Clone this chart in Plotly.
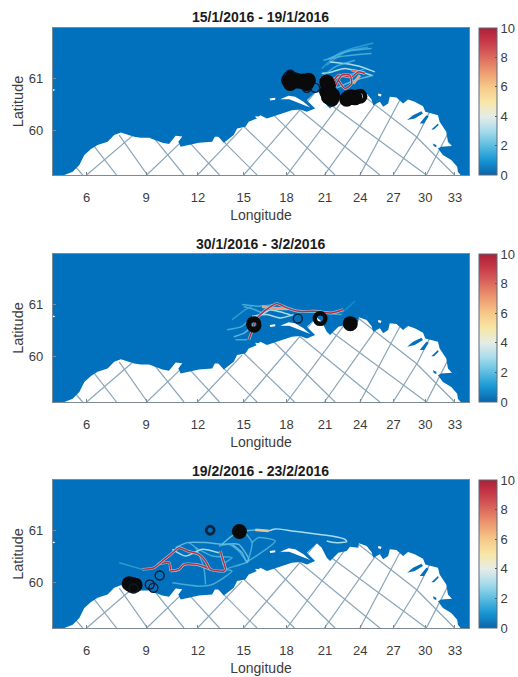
import plotly.graph_objects as go
from plotly.colors import sample_colorscale

# Projected map coordinates: east / north (arbitrary projection units)
lon_labels = ["6", "9", "12", "15", "18", "21", "24", "27", "30", "33"]
lon_east = [262, 441, 597, 735, 864, 980, 1086, 1186, 1282, 1371]
lat_labels = ["60", "61"]
lat_north = [135, 290]
map_east_range = [160, 1414]
map_north_range = [0, 442]
titles = ["15/1/2016 - 19/1/2016", "30/1/2016 - 3/2/2016", "19/2/2016 - 23/2/2016"]

coast = [(195,0),(220,10),(240,30),(255,60),(275,78),(295,90),(325,100),(345,120),(365,128),(385,121),
         (405,115),(425,112),(450,112),(468,105),(490,97),(510,93),(520,105),(530,118),(550,116),(538,100),(545,85),
         (590,93),(600,97),(640,100),(648,115),(660,115),(675,97),(705,120),(715,140),(740,145),(750,160),
         (775,170),(785,180),(805,170),(825,177),(850,185),(880,195),(905,197),(925,190),(950,200),(945,205),
         (925,225),(955,253),(970,240),(985,210),(995,200),(1020,225),(1045,230),(1055,243),(1080,240),(1082,253),
         (1105,245),(1120,227),(1125,210),(1145,220),(1155,205),(1170,215),(1175,235),(1195,233),(1215,215),(1230,227),
         (1250,220),(1275,207),(1282,190),(1320,180),(1325,160),(1345,130),(1350,100),(1362,87),(1330,85),(1320,80),
         (1335,60),(1360,45),(1378,25),(1380,10),(1388,0)]
fjords = [[(1227,165),(1245,180),(1270,192),(1275,185),(1250,170)],
          [(1265,155),(1285,180),(1292,177),(1278,155)],
          [(1300,137),(1320,155),(1322,150),(1308,137)],
          [(1305,95),(1315,90),(1315,83),(1307,87)]]
islands = [[(845,228),(870,238),(890,235),(915,220),(935,203),(905,214),(872,228)],
           [(813,230),(830,232),(830,226),(815,224)],
           [(770,177),(790,175),(790,169),(772,171)],
           [(160,258),(168,256),(160,252)],
           [(1140,245),(1150,243),(1148,236),(1140,238)]]
grid_lines = [[(250,0),(215,40)],[(352,0),(270,105)],[(445,0),(360,120)],[(555,0),(450,130)],[(662,0),(560,110)],
              [(775,0),(640,135)],[(888,0),(715,165)],[(1010,0),(810,195)],[(1145,0),(880,215)],[(1285,0),(1020,195),(995,213)],
              [(1370,0),(1255,115),(1065,262)],
              [(262,0),(420,135)],[(443,0),(565,117)],[(596,0),(730,140)],[(735,0),(855,140),(960,260)],
              [(865,0),(970,140),(1045,240)],[(978,0),(1125,205),(1150,240)],[(1085,0),(1205,225)],
              [(1185,0),(1260,120),(1295,190)],[(1285,0),(1350,125)]]

tracks_1 = [(1.5,[(970,320),(1020,365),(1060,380),(1125,397)]),
            (1.5,[(985,330),(1040,370),(1110,385)]),
            (2,[(975,345),(1020,355),(1060,360),(1120,365)]),
            (2,[(990,350),(1050,372),(1120,380)]),
            (3,[(995,340),(1040,335),(1090,325),(1130,310)]),
            (3,[(970,305),(1000,310),(1040,320),(1120,300)]),
            (2,[(965,290),(1010,325),(1070,345)]),
            (2,[(1000,290),(1050,300),(1100,320)]),
            (2.5,[(1015,262),(1070,285),(1125,300)]),
            (7,[(1065,275),(1085,300)]),
            (8,[(1060,315),(1100,307)]),
            (9.5,[(1000,275),(1020,300),(1060,295),(1080,310),(1100,305)]),
            (9.5,[(1010,265),(1030,300),(1055,300),(1060,275),(1040,260),(1020,285)])]
tracks_2 = [(2,[(730,291),(780,286),(830,291)]),
            (2,[(735,285),(770,275),(800,262)]),
            (1.5,[(700,246),(740,276),(760,286)]),
            (2,[(685,216),(730,226),(750,246)]),
            (2.5,[(705,195),(735,205),(760,225)]),
            (2,[(710,186),(745,186)]),
            (2,[(960,266),(1030,261)]),
            (1,[(1030,266),(1070,301)]),
            (3,[(790,262),(815,275),(850,268),(880,258)]),
            (3,[(760,256),(805,261),(845,251),(885,261)]),
            (7,[(790,285),(830,280),(870,278)]),
            (9.5,[(750,186),(760,211),(770,246),(785,261),(810,281),(835,294),(865,281),(900,271),(950,271),(1000,266),(1035,276)])]
tracks_3 = [(1.5,[(360,195),(430,175)]),
            (2.5,[(530,240),(565,255),(620,255),(670,250),(720,250),(750,205),(745,195),(730,225),(700,250)]),
            (2.5,[(670,250),(700,275),(740,290),(770,293)]),
            (3,[(810,290),(830,296),(880,290),(935,283),(1000,275),(1040,265),(1045,258),(1010,255),(985,260)]),
            (2,[(735,290),(760,255),(745,200),(720,230),(690,250),(660,245)]),
            (2,[(620,130),(615,180),(590,240),(570,255)]),
            (2,[(520,135),(600,125),(640,130),(700,170),(680,175),(740,195),(830,260),(780,270),(760,255)]),
            (2,[(590,240),(640,215),(700,210),(670,190)]),
            (3,[(520,235),(560,215),(610,235),(660,225)]),
            (6,[(770,293),(810,290)]),
            (9.5,[(475,190),(510,195),(515,170)]),
            (9.5,[(515,170),(540,175),(555,190),(590,190),(610,185),(635,175)]),
            (9.5,[(430,175),(465,180),(490,200),(515,220),(540,240),(565,230),(600,220),(620,200),(635,175),(675,170),(680,175),(670,210),(665,230)])]

thick_east_1 = [875,880,885,870,893,905,875,920,925,915,930,988,985,995,990,1003,985,1000,1050,1060,1070,1045,1085]
thick_north_1 = [292,283,287,285,285,282,275,277,275,283,285,270,280,245,235,240,250,228,232,235,232,228,237]
thin_east_1 = [950, 875, 925]
thin_north_1 = [262, 302, 262]
thick_east_2 = [766,765,965]
thick_north_2 = [229,234,249]
thin_east_2 = [898]
thin_north_2 = [249]
thick_east_3 = [400,398,390,408]
thick_north_3 = [130,127,132,128]
thin_east_3 = [403,452,463,482]
thin_north_3 = [118,130,120,157]
solid_east_1 = [880,895,925,990,995,1050,1065]
solid_north_1 = [285,283,278,270,240,232,233]
solid_east_2 = [1056]
solid_north_2 = [234]
solid_east_3 = [722]
solid_north_3 = [288]
ring_east_3 = [634]
ring_north_3 = [292]

cbar_ticks = [0, 2, 4, 6, 8, 10]
colorscale = [[0,"#0b63a8"],[0.1,"#1796d4"],[0.2,"#5cbde0"],[0.3,"#a8dcec"],[0.4,"#e6ece6"],
              [0.5,"#f8e6a6"],[0.6,"#f6c888"],[0.7,"#ee9b70"],[0.8,"#dc6a5f"],[0.9,"#c93c4a"],[1,"#ad1f35"]]

SEA = "#0271BD"
GRID = "#8aa5b8"
AXIS = "#7d8a94"
TEXT = "#3c3c3c"
W, H = 518, 677
FONT = "Liberation Sans, Arial, sans-serif"
panels_px = [(28, 175), (254, 402), (480, 628)]
left, right = 53, 471
title_y = [17, 244, 471]

def xy(points):
    return [p[0] for p in points], [p[1] for p in points]

fig = go.Figure()
data_sets = [(tracks_1, thick_east_1, thick_north_1, thin_east_1, thin_north_1, solid_east_1, solid_north_1, [], []),
             (tracks_2, thick_east_2, thick_north_2, thin_east_2, thin_north_2, solid_east_2, solid_north_2, [], []),
             (tracks_3, thick_east_3, thick_north_3, thin_east_3, thin_north_3, solid_east_3, solid_north_3, ring_east_3, ring_north_3)]

for i, (tracks, te, tn, se, sn, fe, fn, re_, rn) in enumerate(data_sets):
    ax = "" if i == 0 else str(i + 1)
    xa, ya = "x" + ax, "y" + ax
    top, bot = panels_px[i]
    base = dict(xaxis=xa, yaxis=ya, hoverinfo="skip", showlegend=False)
    for g in grid_lines:
        gx, gy = xy(g)
        fig.add_trace(go.Scatter(x=gx, y=gy, mode="lines", line=dict(color=GRID, width=1.2), **base))
    cx, cy = xy(coast)
    e0, e1 = map_east_range[0] - 20, map_east_range[1] + 20
    n1 = map_north_range[1] + 20
    sx = cx + [cx[-1], e1, e1, e0, e0, cx[0]]
    sy = cy + [-20, -20, n1, n1, -20, -20]
    fig.add_trace(go.Scatter(x=sx, y=sy, mode="lines", fill="toself", fillcolor=SEA, line=dict(width=0, color=SEA), **base))
    for f in fjords:
        fx, fy = xy(f)
        fig.add_trace(go.Scatter(x=fx, y=fy, mode="lines", fill="toself", fillcolor=SEA, line=dict(width=0, color=SEA), **base))
    for f in islands:
        fx, fy = xy(f)
        fig.add_trace(go.Scatter(x=fx, y=fy, mode="lines", fill="toself", fillcolor="white", line=dict(width=0, color="white"), **base))
    for val, pts in tracks:
        tx, ty = xy(pts)
        if val >= 6:
            fig.add_trace(go.Scatter(x=tx, y=ty, mode="lines", opacity=0.85,
                                     line=dict(color=sample_colorscale(colorscale, 0.3)[0], width=2.8, shape="spline", smoothing=0.6), **base))
        fig.add_trace(go.Scatter(x=tx, y=ty, mode="lines", opacity=1 if val >= 3 else 0.75,
                                 line=dict(color=sample_colorscale(colorscale, val / 10)[0], width=1.5, shape="spline", smoothing=0.6), **base))
    fig.add_trace(go.Scatter(x=te, y=tn, mode="markers",
                             marker=dict(symbol="circle-open", size=10.5, color="#0a0a0a", line=dict(width=4.5, color="#0a0a0a")), **base))
    fig.add_trace(go.Scatter(x=se, y=sn, mode="markers",
                             marker=dict(symbol="circle-open", size=9, color="#0a1a30", line=dict(width=1.4, color="#0a1a30")), **base))
    if re_:
        fig.add_trace(go.Scatter(x=re_, y=rn, mode="markers",
                                 marker=dict(symbol="circle-open", size=8, color="#0b2440", line=dict(width=2.8, color="#0b2440")), **base))
    fig.add_trace(go.Scatter(x=fe, y=fn, mode="markers",
                             marker=dict(symbol="circle", size=15, color="#0a0a0a", line=dict(width=0)), **base))
    fig.add_trace(go.Scatter(x=[None], y=[None], mode="markers", **base,
                             marker=dict(color=[0, 10], cmin=0, cmax=10, colorscale=colorscale, size=0.1, showscale=True,
                                         colorbar=dict(x=481 / W, xanchor="left", y=1 - bot / H, yanchor="bottom",
                                                       len=(bot - top) / H, lenmode="fraction", thickness=18.3,
                                                       thicknessmode="pixels", tickvals=cbar_ticks, ticks="inside",
                                                       ticklen=2, tickcolor="#555555", xpad=0, ypad=0,
                                                       outlinecolor="#5a6a78", outlinewidth=1, borderwidth=0,
                                                       tickfont=dict(family=FONT, size=13, color=TEXT)))))
    axis_common = dict(mirror=True, showline=True, linecolor=AXIS, linewidth=1, ticks="inside", ticklen=3,
                       tickcolor=AXIS, showgrid=False, zeroline=False,
                       tickfont=dict(family=FONT, size=13, color=TEXT))
    fig.layout["xaxis" + ax] = dict(domain=[left / W, right / W], range=map_east_range, anchor=ya,
                                    tickvals=lon_east, ticktext=lon_labels, ticklabelstandoff=10,
                                    title=dict(text="Longitude", standoff=6, font=dict(family=FONT, size=14, color=TEXT)),
                                    **axis_common)
    fig.layout["yaxis" + ax] = dict(domain=[1 - bot / H, 1 - top / H], range=map_north_range, anchor=xa,
                                    tickvals=lat_north, ticktext=lat_labels, ticklabelstandoff=6,
                                    title=dict(text="Latitude", standoff=1, font=dict(family=FONT, size=14.5, color=TEXT)),
                                    **axis_common)
    fig.add_annotation(text="<b>%s</b>" % titles[i], x=262 / W, y=1 - title_y[i] / H, xref="paper", yref="paper",
                       xanchor="center", yanchor="middle", showarrow=False,
                       font=dict(family=FONT, size=14, color="#1c1c1c"))

fig.update_layout(width=W, height=H, margin=dict(l=0, r=0, t=0, b=0), autosize=False,
                  paper_bgcolor="white", plot_bgcolor="white", showlegend=False)
fig.write_html("out.html", config={"displayModeBar": False}, post_script="document.body.style.margin='0';")
